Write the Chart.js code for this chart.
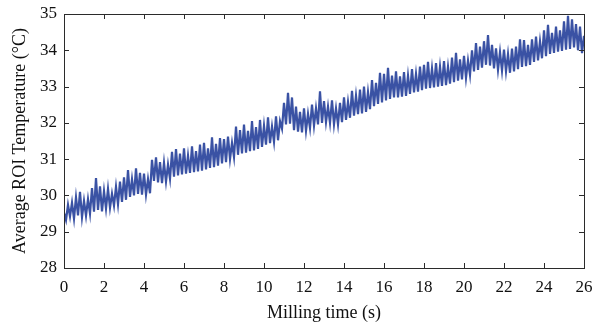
<!DOCTYPE html>
<html>
<head>
<meta charset="utf-8">
<script src="https://cdn.jsdelivr.net/npm/chart.js@4"></script>
<style>
  html, body { margin: 0; padding: 0; background: #fff; }
  #wrap { width: 595px; height: 325px; }
</style>
</head>
<body>
<div id="wrap"><canvas id="tempChart" width="595" height="325"></canvas></div>
<script>
// Average ROI temperature, one reading every 0.1 s
const sampleStep = 0.1; // seconds between readings
const temperature = [
  29.52, 29.32, 29.74, 29.42, 29.80, 29.36, 29.95, 29.45, 30.10, 29.40, // 0 s
  29.85, 29.44, 29.90, 29.50, 30.20, 29.55, 30.48, 29.60, 30.25, 29.56, // 1 s
  30.12, 29.64, 30.18, 29.66, 30.05, 29.72, 30.24, 29.76, 30.38, 29.82, // 2 s
  30.50, 29.88, 30.70, 29.96, 30.45, 30.00, 30.75, 30.04, 30.62, 30.02, // 3 s
  30.60, 30.02, 30.45, 30.06, 30.98, 30.40, 31.05, 30.36, 30.92, 30.34, // 4 s
  30.90, 30.38, 30.85, 30.46, 31.20, 30.52, 31.28, 30.55, 31.15, 30.58, // 5 s
  31.30, 30.60, 31.10, 30.62, 31.35, 30.64, 31.22, 30.66, 31.40, 30.68, // 6 s
  31.45, 30.72, 31.30, 30.76, 31.60, 30.78, 31.42, 30.82, 31.58, 30.88, // 7 s
  31.55, 30.92, 31.62, 31.00, 31.45, 31.06, 31.90, 31.12, 31.80, 31.16, // 8 s
  31.95, 31.18, 31.78, 31.22, 32.05, 31.24, 31.88, 31.28, 32.08, 31.34, // 9 s
  31.92, 31.40, 32.15, 31.44, 31.90, 31.48, 32.18, 31.52, 32.05, 31.84, // 10 s
  32.55, 31.96, 32.83, 31.98, 32.70, 31.80, 32.45, 31.76, 32.30, 31.74, // 11 s
  32.40, 31.78, 32.25, 31.86, 32.50, 31.92, 32.40, 31.96, 32.87, 32.00, // 12 s
  32.60, 32.02, 32.45, 32.00, 32.62, 31.96, 32.40, 31.96, 32.55, 32.02, // 13 s
  32.70, 32.08, 32.58, 32.14, 32.88, 32.20, 32.75, 32.24, 32.92, 32.26, // 14 s
  33.00, 32.30, 32.85, 32.38, 33.18, 32.46, 33.10, 32.52, 33.38, 32.56, // 15 s
  33.35, 32.62, 33.52, 32.66, 33.30, 32.70, 33.42, 32.70, 33.28, 32.72, // 16 s
  33.40, 32.74, 33.30, 32.80, 33.48, 32.84, 33.35, 32.86, 33.55, 32.90, // 17 s
  33.60, 32.94, 33.68, 32.96, 33.50, 32.98, 33.65, 33.00, 33.55, 33.02, // 18 s
  33.70, 33.04, 33.55, 33.08, 33.80, 33.12, 33.93, 33.16, 33.75, 33.20, // 19 s
  33.85, 33.24, 33.72, 33.32, 34.00, 33.42, 34.20, 33.46, 34.10, 33.52, // 20 s
  34.25, 33.60, 34.42, 33.58, 34.15, 33.50, 34.05, 33.46, 33.95, 33.44, // 21 s
  34.02, 33.42, 33.90, 33.38, 34.05, 33.42, 34.10, 33.48, 34.30, 33.54, // 22 s
  34.28, 33.56, 34.15, 33.60, 34.30, 33.68, 34.38, 33.72, 34.25, 33.78, // 23 s
  34.55, 33.84, 34.70, 33.90, 34.48, 33.93, 34.65, 33.96, 34.55, 33.98, // 24 s
  34.80, 34.02, 34.95, 34.04, 34.85, 34.08, 34.72, 34.00, 34.65, 33.92, // 25 s
  34.40                                                                 // 26 s
];
const xTicks = [0, 2, 4, 6, 8, 10, 12, 14, 16, 18, 20, 22, 24, 26];
const yTicks = [28, 29, 30, 31, 32, 33, 34, 35];

const points = temperature.map((v, i) => ({ x: +(i * sampleStep).toFixed(1), y: v }));

// MATLAB style box with ticks pointing inward on all four sides
const boxTicks = {
  id: 'boxTicks',
  afterDraw(chart) {
    const { ctx, chartArea: a, scales } = chart;
    const len = 5;
    ctx.save();
    ctx.strokeStyle = '#2b2b2b';
    ctx.lineWidth = 1;
    ctx.beginPath();
    xTicks.forEach(t => {
      const px = Math.round(scales.x.getPixelForValue(t)) + 0.5;
      ctx.moveTo(px, a.bottom); ctx.lineTo(px, a.bottom - len);
      ctx.moveTo(px, a.top); ctx.lineTo(px, a.top + len);
    });
    yTicks.forEach(t => {
      const py = Math.round(scales.y.getPixelForValue(t)) + 0.5;
      ctx.moveTo(a.left, py); ctx.lineTo(a.left + len, py);
      ctx.moveTo(a.right, py); ctx.lineTo(a.right - len, py);
    });
    ctx.stroke();
    ctx.strokeRect(Math.round(a.left) + 0.5, Math.round(a.top) + 0.5,
      Math.round(a.right - a.left), Math.round(a.bottom - a.top));
    ctx.restore();
  }
};

const serif = 'Liberation Serif';

new Chart(document.getElementById('tempChart'), {
  type: 'line',
  data: {
    datasets: [{
      data: points,
      borderColor: '#3a52a4',
      borderWidth: 2.2,
      pointRadius: 0,
      tension: 0
    }]
  },
  options: {
    responsive: false,
    animation: false,
    layout: { padding: { left: 0, right: 11, top: 14, bottom: 0 } },
    plugins: { legend: { display: false }, tooltip: { enabled: false } },
    scales: {
      x: {
        type: 'linear',
        min: 0, max: 26,
        afterBuildTicks: s => { s.ticks = xTicks.map(v => ({ value: v })); },
        afterFit: s => { s.height = 57; s.paddingLeft = 0; s.paddingRight = 0; },
        grid: { display: false, drawTicks: false },
        border: { display: false },
        ticks: { color: '#111', padding: 9, font: { family: serif, size: 17 } },
        title: {
          display: true, text: 'Milling time (s)', color: '#111',
          padding: { top: 0, bottom: 1 }, font: { family: serif, size: 18 }
        }
      },
      y: {
        min: 28, max: 35,
        afterBuildTicks: s => { s.ticks = yTicks.map(v => ({ value: v })); },
        afterFit: s => { s.width = 64; s.paddingTop = 0; s.paddingBottom = 0; },
        grid: { display: false, drawTicks: false },
        border: { display: false },
        ticks: { color: '#111', padding: 7, font: { family: serif, size: 17 } },
        title: {
          display: true, text: 'Average ROI Temperature (°C)', color: '#111',
          padding: { top: 9, bottom: 0 }, font: { family: serif, size: 18 }
        }
      }
    }
  },
  plugins: [boxTicks]
});
</script>
</body>
</html>
